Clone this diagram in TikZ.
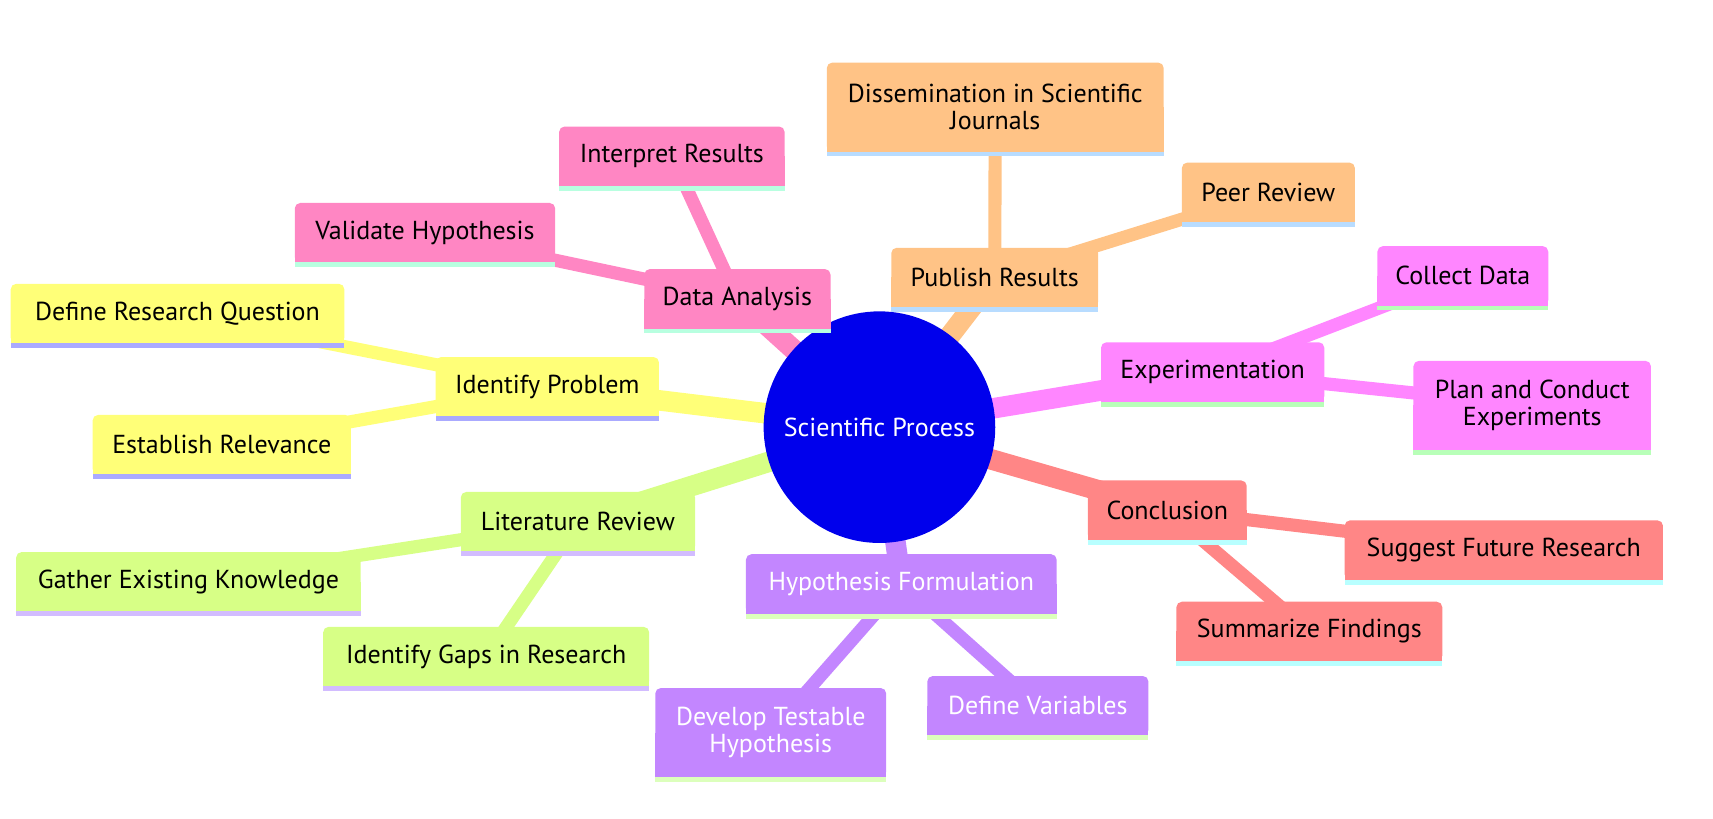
\documentclass[tikz,border=0pt]{standalone}
\usepackage{fontspec}
\setmainfont{PT Sans}
\pgfdeclarelayer{edges}
\pgfdeclarelayer{boxes}
\pgfsetlayers{edges,boxes,main}

% branch colours (fill / underline)
\definecolor{rootc}{HTML}{0000EC}
\definecolor{yelF}{HTML}{FFFF78}\definecolor{yelB}{HTML}{AAAAFF}
\definecolor{limF}{HTML}{D7FF86}\definecolor{limB}{HTML}{D2BCFF}
\definecolor{purF}{HTML}{C386FF}\definecolor{purB}{HTML}{DCFFBC}
\definecolor{magF}{HTML}{FF86FF}\definecolor{magB}{HTML}{B8FFB8}
\definecolor{pnkF}{HTML}{FF86C3}\definecolor{pnkB}{HTML}{B8FFE0}
\definecolor{salF}{HTML}{FF8686}\definecolor{salB}{HTML}{B8FFFF}
\definecolor{orgF}{HTML}{FFC386}\definecolor{orgB}{HTML}{B8DCFF}

\tikzset{
  mmfont/.style={font=\fontsize{23.8}{24.5}\selectfont},
  mm/.style={minimum width=#1, minimum height=54pt, inner sep=0pt, align=center, mmfont},
  mmtwo/.style={mm=#1, minimum height=81pt},
  trunk/.style={line width=18.8pt},
  twig/.style={line width=12pt},
}

% rounded-top box with a coloured strip underneath
\newcommand\mmbox[3]{%
  \fill[#2, rounded corners=5pt] (#1.south west) rectangle (#1.north east);
  \fill[#2] (#1.south west) rectangle (#1.east);
  \fill[#3] (#1.south west) rectangle ([yshift=-4.5pt]#1.south east);
}

\begin{document}
\begin{tikzpicture}[x=1pt, y=-1pt]
\useasboundingbox (0,0) rectangle (1568,749);

% root
\node[circle, minimum size=212pt, inner sep=0pt, text=white, mmfont] (root) at (805,391) {Scientific Process};

% first level
\node[mm=204] (ip)  at (501,354)   {Identify Problem};
\node[mm=214] (lr)  at (529,477.5) {Literature Review};
\node[mm=284, text=white] (hf) at (825,534.5) {Hypothesis Formulation};
\node[mm=204] (exp) at (1110,340.5) {Experimentation};
\node[mm=170] (da)  at (675,273.5) {Data Analysis};
\node[mm=145] (con) at (1068.5,467) {Conclusion};
\node[mm=189] (pr)  at (910.5,254)  {Publish Results};

% second level
\node[mm=305] (drq) at (162.5,287) {Define Research Question};
\node[mm=236] (er)  at (203,407)   {Establish Relevance};
\node[mm=315] (gek) at (172.5,532.5) {Gather Existing Knowledge};
\node[mm=298] (igr) at (445,601)   {Identify Gaps in Research};
\node[mmtwo=211, text=white] (dth) at (705.5,670.5) {Develop Testable\\Hypothesis};
\node[mm=202, text=white] (dv) at (950,646) {Define Variables};
\node[mm=156] (cd)  at (1339,252.5) {Collect Data};
\node[mmtwo=217] (pce) at (1402.5,371) {Plan and Conduct\\Experiments};
\node[mm=238] (vh)  at (389,213)   {Validate Hypothesis};
\node[mm=206] (ir)  at (615,143)   {Interpret Results};
\node[mm=291] (sfr) at (1376.5,503.5) {Suggest Future Research};
\node[mm=243] (sf)  at (1198.5,578) {Summarize Findings};
\node[mmtwo=308] (dsj) at (911,98) {Dissemination in Scientific\\Journals};
\node[mm=158] (peer) at (1161,176) {Peer Review};

% connectors, centre to centre
\begin{pgfonlayer}{edges}
  \draw[trunk, yelF] (root.center) -- (ip.center);
  \draw[trunk, limF] (root.center) -- (lr.center);
  \draw[trunk, purF] (root.center) -- (hf.center);
  \draw[trunk, magF] (root.center) -- (exp.center);
  \draw[trunk, pnkF] (root.center) -- (da.center);
  \draw[trunk, salF] (root.center) -- (con.center);
  \draw[trunk, orgF] (root.center) -- (pr.center);
  \draw[twig, yelF] (ip.center) -- (drq.center);
  \draw[twig, yelF] (ip.center) -- (er.center);
  \draw[twig, limF] (lr.center) -- (gek.center);
  \draw[twig, limF] (lr.center) -- (igr.center);
  \draw[twig, purF] (hf.center) -- (dth.center);
  \draw[twig, purF] (hf.center) -- (dv.center);
  \draw[twig, magF] (exp.center) -- (cd.center);
  \draw[twig, magF] (exp.center) -- (pce.center);
  \draw[twig, pnkF] (da.center) -- (vh.center);
  \draw[twig, pnkF] (da.center) -- (ir.center);
  \draw[twig, salF] (con.center) -- (sfr.center);
  \draw[twig, salF] (con.center) -- (sf.center);
  \draw[twig, orgF] (pr.center) -- (dsj.center);
  \draw[twig, orgF] (pr.center) -- (peer.center);
\end{pgfonlayer}

% shapes behind the labels
\begin{pgfonlayer}{boxes}
  \fill[rootc] (root.center) circle[radius=106pt];
  \mmbox{ip}{yelF}{yelB}\mmbox{drq}{yelF}{yelB}\mmbox{er}{yelF}{yelB}
  \mmbox{lr}{limF}{limB}\mmbox{gek}{limF}{limB}\mmbox{igr}{limF}{limB}
  \mmbox{hf}{purF}{purB}\mmbox{dth}{purF}{purB}\mmbox{dv}{purF}{purB}
  \mmbox{exp}{magF}{magB}\mmbox{cd}{magF}{magB}\mmbox{pce}{magF}{magB}
  \mmbox{da}{pnkF}{pnkB}\mmbox{vh}{pnkF}{pnkB}\mmbox{ir}{pnkF}{pnkB}
  \mmbox{con}{salF}{salB}\mmbox{sfr}{salF}{salB}\mmbox{sf}{salF}{salB}
  \mmbox{pr}{orgF}{orgB}\mmbox{dsj}{orgF}{orgB}\mmbox{peer}{orgF}{orgB}
\end{pgfonlayer}
\end{tikzpicture}
\end{document}
